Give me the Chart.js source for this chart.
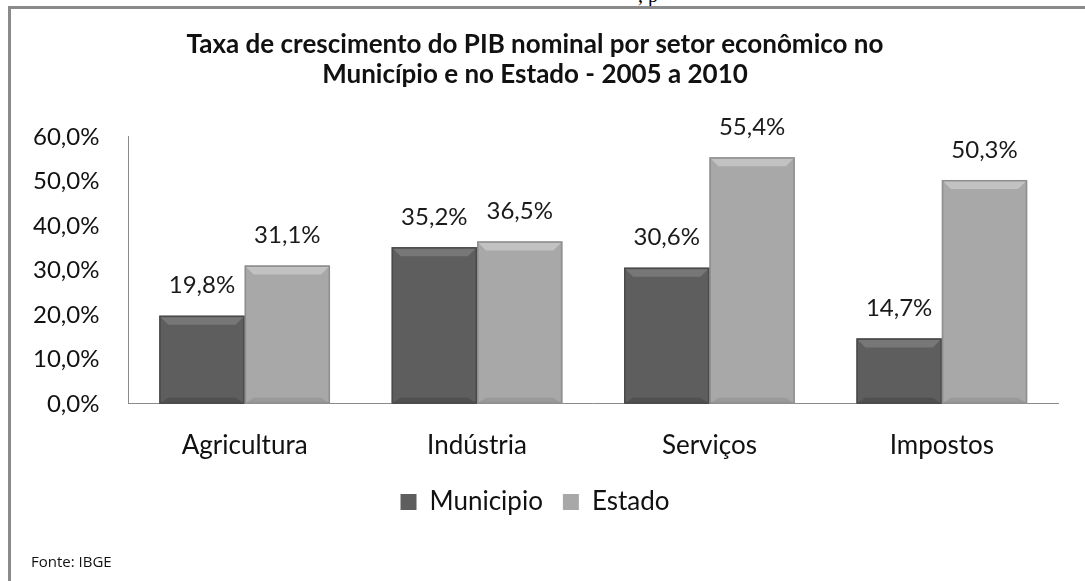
<!DOCTYPE html>
<html>
<head>
<meta charset="utf-8">
<script src="https://cdn.jsdelivr.net/npm/chart.js@4/dist/chart.umd.min.js"></script>
<style>
  html, body { margin: 0; padding: 0; background: #fff; }
  #wrap { position: relative; width: 1085px; height: 581px; overflow: hidden; }
  #frame { position: absolute; left: 8px; top: 6px; right: -10px; bottom: -10px;
           border-top: 3px solid #8a8a8a; border-left: 3px solid #8a8a8a; }
  #cut { position: absolute; left: 638px; top: -16px; font: 20px "Liberation Serif"; color: #000; }
  #fonte { position: absolute; left: 31px; top: 551px; font: 15px "Open Sans"; color: #111; }
  canvas { position: absolute; left: 0; top: 0; }
</style>
</head>
<body>
<div id="wrap">
  <div id="cut">, p</div>
  <div id="frame"></div>
  <canvas id="chart" width="1085" height="581"></canvas>
  <div id="fonte">Fonte: IBGE</div>
</div>
<script>
const sectors = ["Agricultura", "Indústria", "Serviços", "Impostos"]
const municipio = [19.8, 35.2, 30.6, 14.7]
const estado = [31.1, 36.5, 55.4, 50.3]
const yTicks = [0, 10, 20, 30, 40, 50, 60]

const fmt = v => v.toFixed(1).replace(".", ",") + "%"

// bevel look + value labels on top of each bar
const barDecor = {
  id: "barDecor",
  afterDatasetsDraw(chart) {
    const ctx = chart.ctx
    chart.data.datasets.forEach((ds, di) => {
      chart.getDatasetMeta(di).data.forEach((bar, i) => {
        const l = bar.x - bar.width / 2
        const r = bar.x + bar.width / 2
        const t = bar.y
        const b = bar.base
        const e = 9
        ctx.save()
        ctx.fillStyle = ds.bevelLight
        ctx.beginPath()
        ctx.moveTo(l, t); ctx.lineTo(r, t); ctx.lineTo(r - e, t + e); ctx.lineTo(l + e, t + e)
        ctx.closePath(); ctx.fill()
        ctx.fillStyle = ds.bevelDark
        ctx.beginPath()
        ctx.moveTo(l, b); ctx.lineTo(r, b); ctx.lineTo(r - e, b - 6); ctx.lineTo(l + e, b - 6)
        ctx.closePath(); ctx.fill()
        ctx.strokeStyle = ds.borderColor
        ctx.lineWidth = 1.5
        ctx.strokeRect(l + 0.75, t + 0.75, bar.width - 1.5, b - t - 1.5)
        ctx.fillStyle = "#1a1a1a"
        ctx.font = "24px Lato"
        ctx.textAlign = "center"
        ctx.textBaseline = "middle"
        ctx.fillText(fmt(ds.data[i]), bar.x, t - 30)
        ctx.restore()
      })
    })
  }
}

// small nudge of the legend row
const legendShift = {
  id: "legendShift",
  afterLayout(chart) {
    const dy = -10
    chart.legend.top += dy
    chart.legend.bottom += dy
  }
}

new Chart(document.getElementById("chart"), {
  type: "bar",
  data: {
    labels: sectors,
    datasets: [
      {
        label: "Municipio",
        data: municipio,
        backgroundColor: "#5e5e5e",
        borderColor: "#4a4a4a",
        bevelLight: "#777777",
        bevelDark: "#505050",
        borderWidth: 0
      },
      {
        label: "Estado",
        data: estado,
        backgroundColor: "#a8a8a8",
        borderColor: "#8e8e8e",
        bevelLight: "#c2c2c2",
        bevelDark: "#999999",
        borderWidth: 0
      }
    ]
  },
  options: {
    responsive: false,
    animation: false,
    categoryPercentage: 0.735,
    barPercentage: 1,
    layout: { padding: { left: 12, right: 27, top: 0, bottom: 46 } },
    plugins: {
      title: {
        display: true,
        text: ["Taxa de crescimento do PIB nominal por setor econômico no",
               "Município e no Estado - 2005 a 2010"],
        color: "#111",
        font: { family: "Lato", size: 26, weight: "bold", lineHeight: 1.15 },
        padding: { top: 30, bottom: 47 }
      },
      legend: {
        position: "bottom",
        labels: {
          color: "#111",
          font: { family: "Lato", size: 26 },
          boxWidth: 16,
          boxHeight: 16,
          padding: 20
        }
      },
      tooltip: { enabled: false }
    },
    scales: {
      x: {
        grid: { display: false },
        border: { color: "#8a8a8a" },
        ticks: { color: "#111", font: { family: "Lato", size: 26 }, padding: 18 }
      },
      y: {
        min: 0,
        max: 60,
        afterBuildTicks: axis => { axis.ticks = yTicks.map(v => ({ value: v })) },
        grid: { display: false },
        border: { color: "#8a8a8a" },
        ticks: { color: "#111", font: { family: "Lato", size: 24 }, padding: 21,
                 callback: v => fmt(v) }
      }
    }
  },
  plugins: [barDecor, legendShift]
})
</script>
</body>
</html>
